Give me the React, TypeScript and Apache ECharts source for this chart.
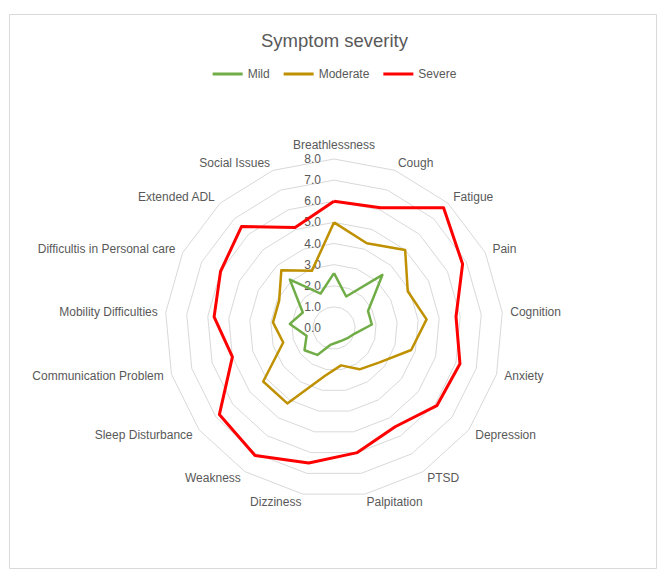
import React, { useEffect, useRef } from "react";
import * as echarts from "echarts";

const indicators = [
  "Breathlessness",
  "Cough",
  "Fatigue",
  "Pain",
  "Cognition",
  "Anxiety",
  "Depression",
  "PTSD",
  "Palpitation",
  "Dizziness",
  "Weakness",
  "Sleep Disturbance",
  "Communication Problem",
  "Mobility Difficulties",
  "Difficultis in Personal care",
  "Extended ADL",
  "Social Issues",
];

const mild = [2.6, 1.6, 3.4, 1.8, 1.8, 1.0, 0.8, 0.7, 0.7, 0.8, 1.5, 1.75, 1.35, 2.1, 1.65, 3.1, 1.75];
const moderate = [5.0, 4.3, 5.0, 3.9, 4.4, 3.8, 2.7, 2.3, 1.8, 2.3, 4.2, 4.2, 2.5, 2.9, 2.9, 3.7, 2.9];
const severe = [6.0, 6.1, 7.7, 6.8, 5.8, 6.2, 6.1, 5.5, 6.0, 6.5, 7.1, 6.8, 5.0, 5.7, 6.0, 6.5, 5.1];

const seriesNames = ["Mild", "Moderate", "Severe"];
const seriesColors = ["#70AD47", "#BF9000", "#FF0000"];
const seriesWidths = [2.5, 2.5, 3];

const axisMin = 0;
const axisMax = 8;
const axisStep = 1;

// ECharts places radar indicators counter-clockwise; Excel goes clockwise.
const order = [0, ...indicators.slice(1).map((_, i) => indicators.length - 1 - i)];
const reorder = (arr: any[]) => order.map((i) => arr[i]);

export default function App() {
  const ref = useRef<HTMLDivElement>(null);

  useEffect(() => {
    if (!ref.current) return;
    const chart = echarts.init(ref.current, null, { renderer: "svg" });
    const font = "Liberation Sans, Arial, sans-serif";
    const values = [mild, moderate, severe];
    chart.setOption({
      animation: false,
      backgroundColor: "#ffffff",
      color: seriesColors,
      textStyle: { fontFamily: font },
      title: {
        text: "Symptom severity",
        left: "center",
        top: 26,
        textStyle: { fontSize: 18.5, fontWeight: "normal", color: "#595959", fontFamily: font },
      },
      legend: {
        top: 63,
        left: "center",
        icon: "rect",
        itemWidth: 30,
        itemHeight: 3,
        itemGap: 14,
        data: seriesNames,
        textStyle: { fontSize: 12, color: "#595959", fontFamily: font },
      },
      graphic: [
        {
          type: "rect",
          silent: true,
          shape: { x: 9.5, y: 14.5, width: 647, height: 554 },
          style: { fill: "none", stroke: "#d9d9d9", lineWidth: 1 },
        },
      ],
      radar: {
        center: [334, 328],
        radius: 169,
        startAngle: 90,
        splitNumber: (axisMax - axisMin) / axisStep,
        shape: "polygon",
        nameGap: 8,
        indicator: reorder(indicators).map((name: string) => ({ name, min: axisMin, max: axisMax })),
        axisName: { color: "#595959", fontSize: 12, fontFamily: font },
        axisLine: { show: false },
        axisTick: { show: false },
        axisLabel: { show: false },
        splitLine: { lineStyle: { color: "#d9d9d9", width: 1 } },
        splitArea: { show: false },
      },
      grid: { left: 334, top: 159, width: 1, height: 169 },
      xAxis: { type: "value", show: false },
      yAxis: {
        type: "value",
        min: axisMin,
        max: axisMax,
        interval: axisStep,
        axisLine: { show: false },
        axisTick: { show: false },
        splitLine: { show: false },
        axisLabel: {
          formatter: (v: number) => v.toFixed(1),
          color: "#595959",
          fontSize: 12,
          margin: 13,
          fontFamily: font,
        },
      },
      series: [
        {
          type: "radar",
          symbol: "none",
          data: seriesNames.map((name, k) => ({
            name,
            value: reorder(values[k]),
            lineStyle: { color: seriesColors[k], width: seriesWidths[k] },
            itemStyle: { color: seriesColors[k] },
          })),
        },
      ],
    });
    return () => chart.dispose();
  }, []);

  return (
    <div
      ref={ref}
      style={{ position: "fixed", left: 0, top: 0, width: 669, height: 578 }}
    />
  );
}
